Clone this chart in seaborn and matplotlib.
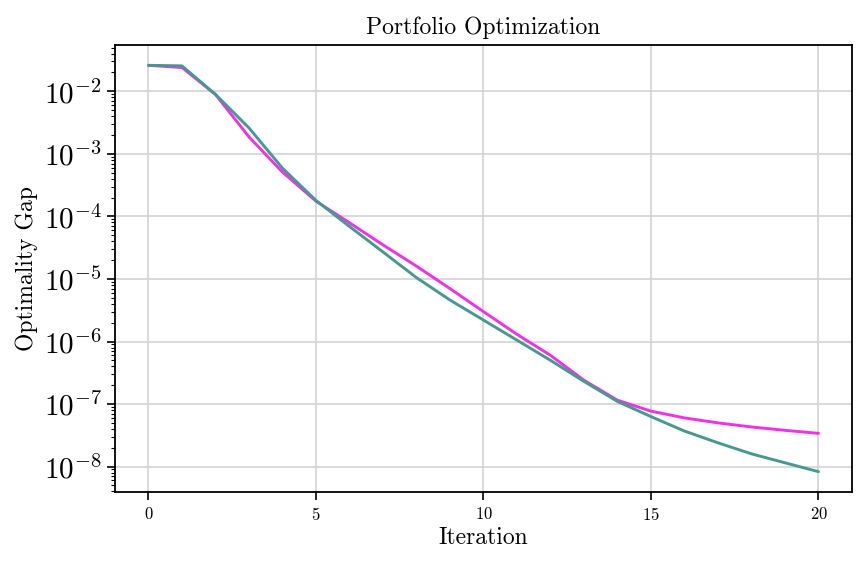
import numpy as np
import pandas as pd
import matplotlib
matplotlib.use("Agg")
import matplotlib.pyplot as plt
import seaborn as sns

# Donnees
iterations = list(range(21))
gap_magenta = [2.6e-2, 2.4e-2, 8.9e-3, 1.86e-3, 5.1e-4, 1.75e-4, 7.9e-5, 3.5e-5,
               1.6e-5, 7.0e-6, 3.0e-6, 1.3e-6, 6.0e-7, 2.4e-7, 1.15e-7, 7.7e-8,
               6.0e-8, 5.0e-8, 4.3e-8, 3.8e-8, 3.4e-8]
gap_teal = [2.6e-2, 2.55e-2, 8.9e-3, 2.6e-3, 5.9e-4, 1.8e-4, 6.9e-5, 2.7e-5,
            1.05e-5, 4.6e-6, 2.2e-6, 1.05e-6, 5.0e-7, 2.3e-7, 1.1e-7, 6.3e-8,
            3.7e-8, 2.4e-8, 1.6e-8, 1.15e-8, 8.3e-9]

df = pd.DataFrame({"Iteration": iterations + iterations,
                   "gap": gap_magenta + gap_teal,
                   "method": ["a"] * 21 + ["b"] * 21})

sns.set_style("ticks", {"text.color": "black", "axes.labelcolor": "black",
                        "xtick.color": "black", "ytick.color": "black"})
plt.rcParams["font.family"] = ["cmr10", "DejaVu Serif"]
plt.rcParams["mathtext.fontset"] = "cm"
plt.rcParams["axes.formatter.use_mathtext"] = True
plt.rcParams["axes.unicode_minus"] = True

fig = plt.figure(figsize=(8.67, 5.67), dpi=100)
ax = fig.add_axes([0.1326, 0.1323, 0.8501, 0.7883])

sns.lineplot(data=df, x="Iteration", y="gap", hue="method",
             palette={"a": "#f032e6", "b": "#469990"}, linewidth=2.1,
             legend=False, ax=ax)
ax.set_yscale("log")

ax.grid(True, which="major", color="#d3d3d3", linewidth=1.2)
ax.set_axisbelow(True)
for s in ax.spines.values():
    s.set_color("black")
    s.set_linewidth(1.3)

ax.set_xticks([0, 5, 10, 15, 20])
ax.tick_params(axis="x", labelsize=12, length=6, width=1.2, pad=4)
ax.tick_params(axis="y", which="major", labelsize=21, length=6, width=1.2)
ax.tick_params(axis="y", which="minor", length=3, width=0.8)

ax.set_title("Portfolio Optimization", fontsize=17, pad=8)
ax.set_xlabel("Iteration", fontsize=17, labelpad=3)
ax.set_ylabel("Optimality Gap", fontsize=17, labelpad=4)

fig.savefig("out.png", dpi=100)
